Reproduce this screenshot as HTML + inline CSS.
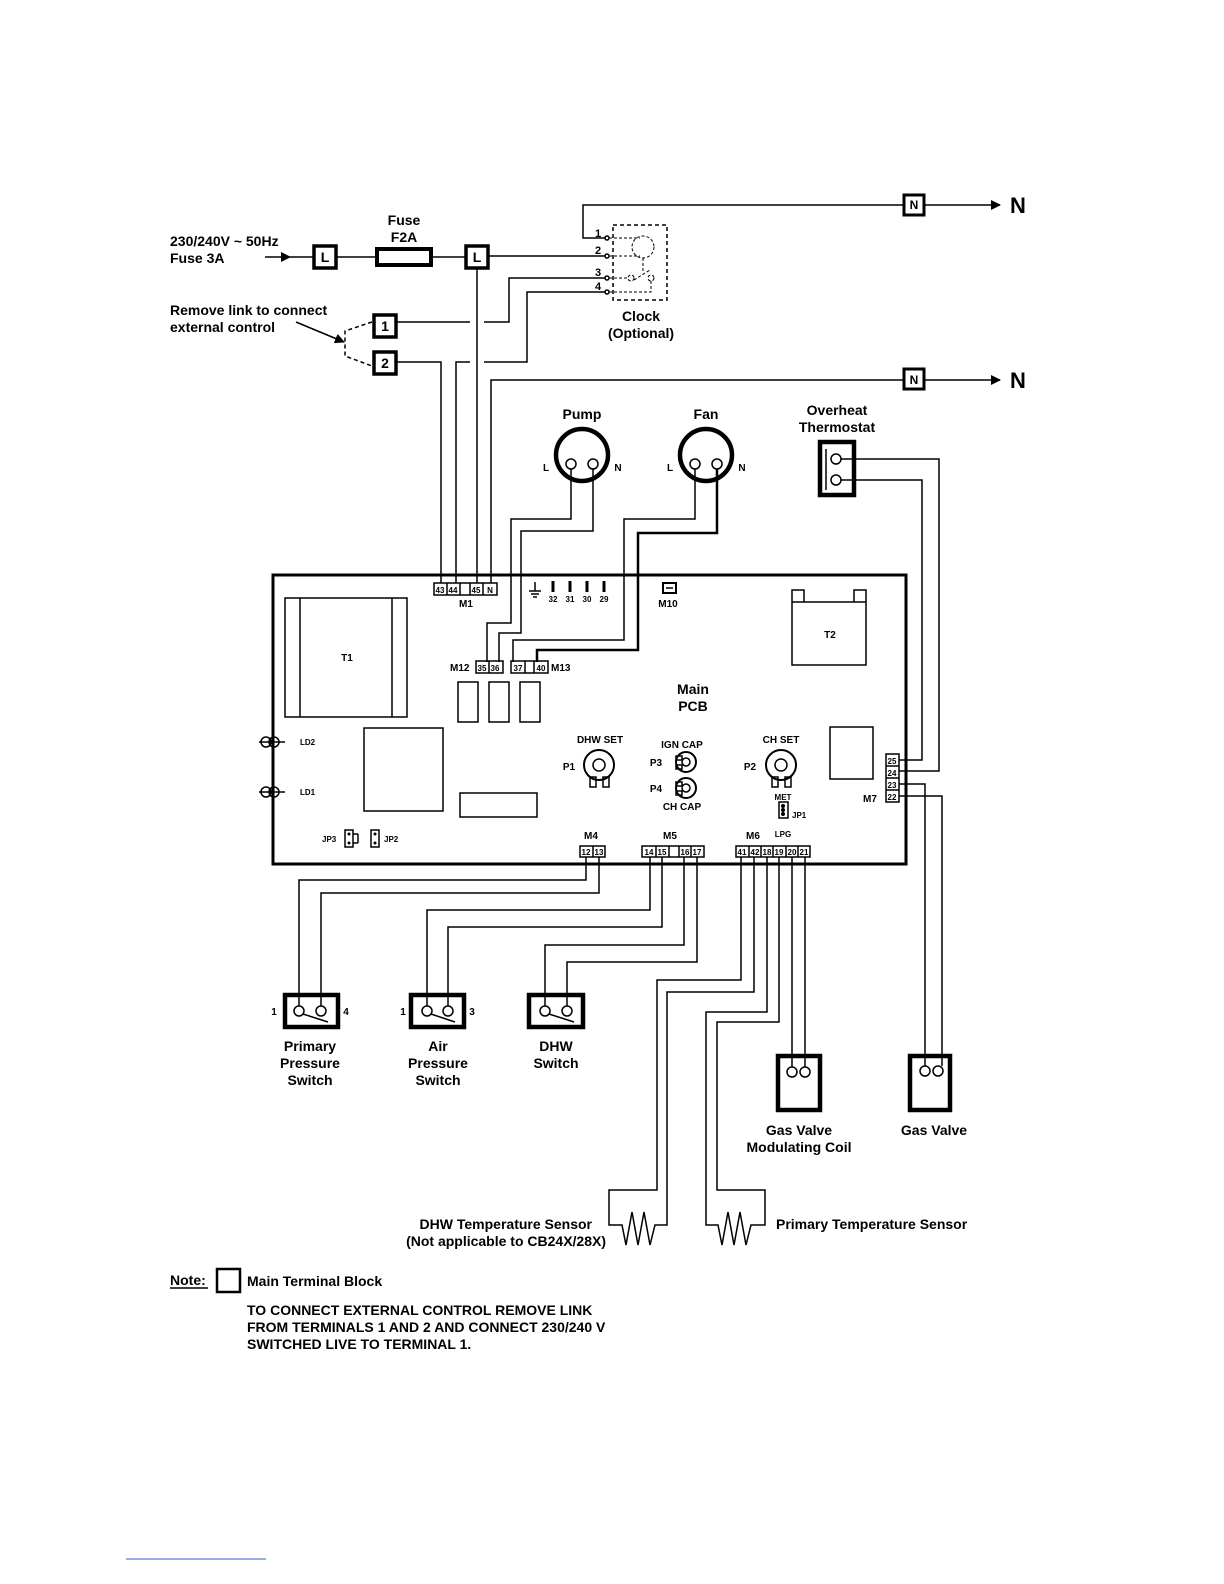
<!DOCTYPE html>
<html><head><meta charset="utf-8"><style>
html,body{margin:0;padding:0;background:#fff;overflow:hidden;width:1224px;height:1584px}
svg{display:block}
text{font-family:"Liberation Sans",Arial,sans-serif;font-weight:bold;fill:#000}
.l{font-size:14px}.s{font-size:10px}.xs{font-size:8px}
</style></head><body>
<svg width="1224" height="1584" viewBox="0 0 1224 1584" xmlns="http://www.w3.org/2000/svg">
<defs><marker id="ar" markerWidth="10" markerHeight="10" refX="9" refY="5" orient="auto" markerUnits="userSpaceOnUse"><path d="M0,0 L10,5 L0,10 z" fill="#000"/></marker></defs>
<g fill="none" stroke="#000" stroke-width="1.5">
<polyline points="605,238 583,238 583,205 904,205"/>
<line x1="924" y1="205" x2="1000" y2="205" marker-end="url(#ar)"/>
<rect x="904" y="195" width="20" height="20" stroke-width="3"/>
<line x1="265" y1="257" x2="290" y2="257" marker-end="url(#ar)"/>
<line x1="290" y1="257" x2="314" y2="257"/>
<rect x="314" y="246" width="22" height="22" stroke-width="3.5"/>
<line x1="336" y1="257" x2="376" y2="257"/>
<rect x="377" y="249" width="54" height="16" stroke-width="4"/>
<line x1="431" y1="257" x2="466" y2="257"/>
<rect x="466" y="246" width="22" height="22" stroke-width="3.5"/>
<line x1="488" y1="256" x2="605" y2="256"/>
<line x1="477" y1="268" x2="477" y2="583"/>
<rect x="374" y="315" width="22" height="22" stroke-width="3.5"/>
<line x1="396" y1="322" x2="470" y2="322"/>
<polyline points="484,322 509,322 509,278 605,278"/>
<rect x="374" y="352" width="22" height="22" stroke-width="3.5"/>
<polyline points="396,362 441,362 441,583"/>
<polyline points="456,583 456,362 470,362"/>
<polyline points="484,362 527,362 527,292 605,292"/>
<polyline points="372,322 345,331 345,356 372,366" stroke-dasharray="4,3"/>
<line x1="296" y1="322" x2="344" y2="342" marker-end="url(#ar)"/>
<polyline points="491,583 491,380 904,380"/>
<rect x="904" y="369" width="20" height="20" stroke-width="3"/>
<line x1="924" y1="380" x2="1000" y2="380" marker-end="url(#ar)"/>
<rect x="613" y="225" width="54" height="75" stroke-dasharray="4,3"/>
<circle cx="607" cy="238" r="2"/><circle cx="607" cy="256" r="2"/><circle cx="607" cy="278" r="2"/><circle cx="607" cy="292" r="2"/>
<g stroke-width="1" stroke-dasharray="3,2">
<line x1="609" y1="238" x2="640" y2="238"/><line x1="609" y1="256" x2="640" y2="256"/>
<circle cx="643" cy="247" r="11"/><line x1="643" y1="258" x2="643" y2="272"/>
<line x1="609" y1="278" x2="628" y2="278"/><circle cx="631" cy="278" r="3"/><line x1="634" y1="280" x2="650" y2="270"/><circle cx="651" cy="278" r="3"/>
<polyline points="609,292 651,292 651,281"/>
</g>
<circle cx="582" cy="455" r="26" stroke-width="4.5"/>
<circle cx="571" cy="464" r="5"/><circle cx="593" cy="464" r="5"/>
<circle cx="706" cy="455" r="26" stroke-width="4.5"/>
<circle cx="695" cy="464" r="5"/><circle cx="717" cy="464" r="5"/>
<polyline points="571,469 571,519 511,519 511,623 487,623 487,662"/>
<polyline points="593,469 593,531 521,531 521,633 499,633 499,662"/>
<polyline points="695,469 695,519 624,519 624,640 513,640 513,662"/>
<polyline points="717,469 717,533 638,533 638,650 537,650 537,662" stroke-width="2.5"/>
<rect x="820" y="442" width="34" height="53" stroke-width="4.5"/>
<line x1="826" y1="449" x2="826" y2="490"/>
<circle cx="836" cy="459" r="5"/><circle cx="836" cy="480" r="5"/>
<polyline points="841,459 939,459 939,771 899,771"/>
<polyline points="841,480 922,480 922,760 899,760"/>
<polyline points="899,784 925,784 925,1066"/>
<polyline points="899,796 942,796 942,1066"/>
<rect x="273" y="575" width="633" height="289" stroke-width="3"/>
<rect x="434" y="583" width="63" height="12"/>
<line x1="447" y1="583" x2="447" y2="595"/><line x1="460" y1="583" x2="460" y2="595"/><line x1="470" y1="583" x2="470" y2="595"/><line x1="483" y1="583" x2="483" y2="595"/>
<line x1="535" y1="582" x2="535" y2="591"/><line x1="529" y1="591" x2="541" y2="591"/><line x1="531" y1="594" x2="539" y2="594"/><line x1="533" y1="597" x2="537" y2="597"/>
<g stroke-width="3"><line x1="553" y1="581" x2="553" y2="592"/><line x1="570" y1="581" x2="570" y2="592"/><line x1="587" y1="581" x2="587" y2="592"/><line x1="604" y1="581" x2="604" y2="592"/></g>
<rect x="663" y="583" width="13" height="10" stroke-width="2"/><line x1="666" y1="588" x2="673" y2="588"/>
<rect x="792" y="602" width="74" height="63"/>
<polyline points="792,602 792,590 804,590 804,602"/><polyline points="854,602 854,590 866,590 866,602"/>
<rect x="285" y="598" width="122" height="119"/>
<line x1="300" y1="598" x2="300" y2="717"/><line x1="392" y1="598" x2="392" y2="717"/>
<rect x="476" y="661" width="27" height="12"/><line x1="489" y1="661" x2="489" y2="673"/>
<rect x="511" y="661" width="37" height="12"/><line x1="525" y1="661" x2="525" y2="673"/><line x1="534" y1="661" x2="534" y2="673"/>
<rect x="458" y="682" width="20" height="40"/><rect x="489" y="682" width="20" height="40"/><rect x="520" y="682" width="20" height="40"/>
<rect x="364" y="728" width="79" height="83"/>
<rect x="460" y="793" width="77" height="24"/>
<rect x="830" y="727" width="43" height="52"/>
<circle cx="266" cy="742" r="5"/><circle cx="274" cy="742" r="5"/><line x1="259" y1="742" x2="285" y2="742"/>
<circle cx="266" cy="792" r="5"/><circle cx="274" cy="792" r="5"/><line x1="259" y1="792" x2="285" y2="792"/>
<rect x="345" y="830" width="8" height="17"/><line x1="353" y1="834" x2="358" y2="834"/><line x1="358" y1="834" x2="358" y2="843"/><line x1="353" y1="843" x2="358" y2="843"/>
<rect x="371" y="830" width="8" height="17"/>
<circle cx="599" cy="765" r="15" stroke-width="2"/><circle cx="599" cy="765" r="6"/>
<rect x="590" y="777" width="6" height="10"/><rect x="603" y="777" width="6" height="10"/>
<circle cx="781" cy="765" r="15" stroke-width="2"/><circle cx="781" cy="765" r="6"/>
<rect x="772" y="777" width="6" height="10"/><rect x="785" y="777" width="6" height="10"/>
<circle cx="686" cy="762" r="10" stroke-width="2"/><circle cx="686" cy="762" r="4"/>
<rect x="676" y="756" width="6" height="4"/><rect x="676" y="765" width="6" height="4"/>
<circle cx="686" cy="788" r="10" stroke-width="2"/><circle cx="686" cy="788" r="4"/>
<rect x="676" y="782" width="6" height="4"/><rect x="676" y="791" width="6" height="4"/>
<rect x="779" y="802" width="9" height="16"/>
<rect x="886" y="754" width="13" height="48"/>
<line x1="886" y1="766" x2="899" y2="766"/><line x1="886" y1="778" x2="899" y2="778"/><line x1="886" y1="790" x2="899" y2="790"/>
<rect x="580" y="846" width="25" height="11"/><line x1="593" y1="846" x2="593" y2="857"/>
<rect x="642" y="846" width="62" height="11"/>
<line x1="656" y1="846" x2="656" y2="857"/><line x1="669" y1="846" x2="669" y2="857"/><line x1="679" y1="846" x2="679" y2="857"/><line x1="691" y1="846" x2="691" y2="857"/>
<rect x="736" y="846" width="74" height="11"/>
<line x1="749" y1="846" x2="749" y2="857"/><line x1="761" y1="846" x2="761" y2="857"/><line x1="773" y1="846" x2="773" y2="857"/><line x1="786" y1="846" x2="786" y2="857"/><line x1="798" y1="846" x2="798" y2="857"/>
<polyline points="586,857 586,880 299,880 299,1006"/>
<polyline points="599,857 599,893 321,893 321,1006"/>
<polyline points="650,857 650,910 427,910 427,1006"/>
<polyline points="662,857 662,927 448,927 448,1006"/>
<polyline points="684,857 684,945 545,945 545,1006"/>
<polyline points="697,857 697,962 567,962 567,1006"/>
<polyline points="741,857 741,980 657,980 657,1190 609,1190 609,1225 622,1225 626,1245 632,1212 638,1245 644,1212 650,1245 655,1225 667,1225 667,992 754,992 754,857"/>
<polyline points="767,857 767,1012 706,1012 706,1225 718,1225 722,1245 728,1212 734,1245 740,1212 746,1245 751,1225 765,1225 765,1190 717,1190 717,1022 779,1022 779,857"/>
<polyline points="792,857 792,1067"/>
<polyline points="805,857 805,1067"/>
<rect x="778" y="1056" width="42" height="54" stroke-width="4.5"/>
<circle cx="792" cy="1072" r="5"/><circle cx="805" cy="1072" r="5"/>
<rect x="910" y="1056" width="40" height="54" stroke-width="4.5"/>
<circle cx="925" cy="1071" r="5"/><circle cx="938" cy="1071" r="5"/>
<rect x="285" y="995" width="53" height="32" stroke-width="4.5"/>
<circle cx="299" cy="1011" r="5"/><circle cx="321" cy="1011" r="5"/><line x1="303" y1="1014" x2="328" y2="1022"/>
<rect x="411" y="995" width="53" height="32" stroke-width="4.5"/>
<circle cx="427" cy="1011" r="5"/><circle cx="448" cy="1011" r="5"/><line x1="431" y1="1014" x2="455" y2="1022"/>
<rect x="529" y="995" width="54" height="32" stroke-width="4.5"/>
<circle cx="545" cy="1011" r="5"/><circle cx="567" cy="1011" r="5"/><line x1="549" y1="1014" x2="574" y2="1022"/>
<rect x="217" y="1269" width="23" height="23" stroke-width="2.5"/>
<line x1="170" y1="1288" x2="208" y2="1288"/>
<line x1="126" y1="1559" x2="266" y2="1559" stroke="#3355cc" stroke-width="1"/>
</g>
<g fill="#000">
<circle cx="783" cy="806" r="2"/><circle cx="783" cy="810" r="2"/><circle cx="783" cy="814" r="2"/>
<circle cx="349" cy="834" r="1.5"/><circle cx="349" cy="843" r="1.5"/><circle cx="375" cy="834" r="1.5"/><circle cx="375" cy="843" r="1.5"/>
</g>
<text class="l" x="170" y="246">230/240V ~ 50Hz</text>
<text class="l" x="170" y="263">Fuse 3A</text>
<text class="l" x="404" y="225" text-anchor="middle">Fuse</text>
<text class="l" x="404" y="242" text-anchor="middle">F2A</text>
<text class="l" x="325" y="262" text-anchor="middle">L</text>
<text class="l" x="477" y="262" text-anchor="middle">L</text>
<text class="l" x="385" y="331" text-anchor="middle">1</text>
<text class="l" x="385" y="368" text-anchor="middle">2</text>
<text class="s" x="914" y="209" text-anchor="middle" style="font-size:12px">N</text>
<text class="s" x="914" y="384" text-anchor="middle" style="font-size:12px">N</text>
<text x="1018" y="213" text-anchor="middle" style="font-size:22px">N</text>
<text x="1018" y="388" text-anchor="middle" style="font-size:22px">N</text>
<text class="l" x="170" y="315">Remove link to connect</text>
<text class="l" x="170" y="332">external control</text>
<text class="s" x="595" y="237" style="font-size:11px">1</text>
<text class="s" x="595" y="254" style="font-size:11px">2</text>
<text class="s" x="595" y="276" style="font-size:11px">3</text>
<text class="s" x="595" y="290" style="font-size:11px">4</text>
<text class="l" x="641" y="321" text-anchor="middle">Clock</text>
<text class="l" x="641" y="338" text-anchor="middle">(Optional)</text>
<text class="l" x="582" y="419" text-anchor="middle">Pump</text>
<text class="l" x="706" y="419" text-anchor="middle">Fan</text>
<text class="s" x="546" y="471" text-anchor="middle">L</text><text class="s" x="618" y="471" text-anchor="middle">N</text>
<text class="s" x="670" y="471" text-anchor="middle">L</text><text class="s" x="742" y="471" text-anchor="middle">N</text>
<text class="l" x="837" y="415" text-anchor="middle">Overheat</text>
<text class="l" x="837" y="432" text-anchor="middle">Thermostat</text>
<text class="xs" x="440" y="593" text-anchor="middle">43</text><text class="xs" x="453" y="593" text-anchor="middle">44</text>
<text class="xs" x="476" y="593" text-anchor="middle">45</text><text class="xs" x="490" y="593" text-anchor="middle">N</text>
<text class="xs" x="553" y="602" text-anchor="middle">32</text><text class="xs" x="570" y="602" text-anchor="middle">31</text>
<text class="xs" x="587" y="602" text-anchor="middle">30</text><text class="xs" x="604" y="602" text-anchor="middle">29</text>
<text class="xs" x="482" y="671" text-anchor="middle">35</text><text class="xs" x="495" y="671" text-anchor="middle">36</text>
<text class="xs" x="518" y="671" text-anchor="middle">37</text><text class="xs" x="541" y="671" text-anchor="middle">40</text>
<text class="xs" x="300" y="745">LD2</text><text class="xs" x="300" y="795">LD1</text>
<text class="xs" x="322" y="842">JP3</text><text class="xs" x="384" y="842">JP2</text>
<text class="xs" x="783" y="800" text-anchor="middle">MET</text><text class="xs" x="783" y="837" text-anchor="middle">LPG</text>
<text class="xs" x="792" y="818">JP1</text>
<text class="xs" x="892" y="764" text-anchor="middle">25</text><text class="xs" x="892" y="776" text-anchor="middle">24</text>
<text class="xs" x="892" y="788" text-anchor="middle">23</text><text class="xs" x="892" y="800" text-anchor="middle">22</text>
<text class="xs" x="586" y="855" text-anchor="middle">12</text><text class="xs" x="599" y="855" text-anchor="middle">13</text>
<text class="xs" x="649" y="855" text-anchor="middle">14</text><text class="xs" x="662" y="855" text-anchor="middle">15</text>
<text class="xs" x="685" y="855" text-anchor="middle">16</text><text class="xs" x="697" y="855" text-anchor="middle">17</text>
<text class="xs" x="742" y="855" text-anchor="middle">41</text><text class="xs" x="755" y="855" text-anchor="middle">42</text>
<text class="xs" x="767" y="855" text-anchor="middle">18</text><text class="xs" x="779" y="855" text-anchor="middle">19</text>
<text class="xs" x="792" y="855" text-anchor="middle">20</text><text class="xs" x="804" y="855" text-anchor="middle">21</text>
<text class="s" x="466" y="607" text-anchor="middle">M1</text>
<text class="s" x="668" y="607" text-anchor="middle">M10</text>
<text class="s" x="830" y="638" text-anchor="middle">T2</text>
<text class="s" x="347" y="661" text-anchor="middle">T1</text>
<text class="s" x="450" y="671">M12</text>
<text class="s" x="551" y="671">M13</text>
<text class="l" x="693" y="694" text-anchor="middle">Main</text>
<text class="l" x="693" y="711" text-anchor="middle">PCB</text>
<text class="s" x="600" y="743" text-anchor="middle">DHW SET</text>
<text class="s" x="569" y="770" text-anchor="middle">P1</text>
<text class="s" x="682" y="748" text-anchor="middle">IGN CAP</text>
<text class="s" x="656" y="766" text-anchor="middle">P3</text>
<text class="s" x="656" y="792" text-anchor="middle">P4</text>
<text class="s" x="682" y="810" text-anchor="middle">CH CAP</text>
<text class="s" x="781" y="743" text-anchor="middle">CH SET</text>
<text class="s" x="750" y="770" text-anchor="middle">P2</text>
<text class="s" x="870" y="802" text-anchor="middle">M7</text>
<text class="s" x="591" y="839" text-anchor="middle">M4</text>
<text class="s" x="670" y="839" text-anchor="middle">M5</text>
<text class="s" x="753" y="839" text-anchor="middle">M6</text>
<text class="s" x="274" y="1015" text-anchor="middle">1</text><text class="s" x="346" y="1015" text-anchor="middle">4</text>
<text class="s" x="403" y="1015" text-anchor="middle">1</text><text class="s" x="472" y="1015" text-anchor="middle">3</text>
<text class="l" x="310" y="1051" text-anchor="middle">Primary</text>
<text class="l" x="310" y="1068" text-anchor="middle">Pressure</text>
<text class="l" x="310" y="1085" text-anchor="middle">Switch</text>
<text class="l" x="438" y="1051" text-anchor="middle">Air</text>
<text class="l" x="438" y="1068" text-anchor="middle">Pressure</text>
<text class="l" x="438" y="1085" text-anchor="middle">Switch</text>
<text class="l" x="556" y="1051" text-anchor="middle">DHW</text>
<text class="l" x="556" y="1068" text-anchor="middle">Switch</text>
<text class="l" x="799" y="1135" text-anchor="middle">Gas Valve</text>
<text class="l" x="799" y="1152" text-anchor="middle">Modulating Coil</text>
<text class="l" x="934" y="1135" text-anchor="middle">Gas Valve</text>
<text class="l" x="592" y="1229" text-anchor="end">DHW Temperature Sensor</text>
<text class="l" x="606" y="1246" text-anchor="end">(Not applicable to CB24X/28X)</text>
<text class="l" x="776" y="1229">Primary Temperature Sensor</text>
<text class="l" x="170" y="1285">Note:</text>
<text class="l" x="247" y="1286">Main Terminal Block</text>
<text class="l" x="247" y="1315">TO CONNECT EXTERNAL CONTROL REMOVE LINK</text>
<text class="l" x="247" y="1332">FROM TERMINALS 1 AND 2 AND CONNECT 230/240 V</text>
<text class="l" x="247" y="1349">SWITCHED LIVE TO TERMINAL 1.</text>
</svg>
</body></html>
